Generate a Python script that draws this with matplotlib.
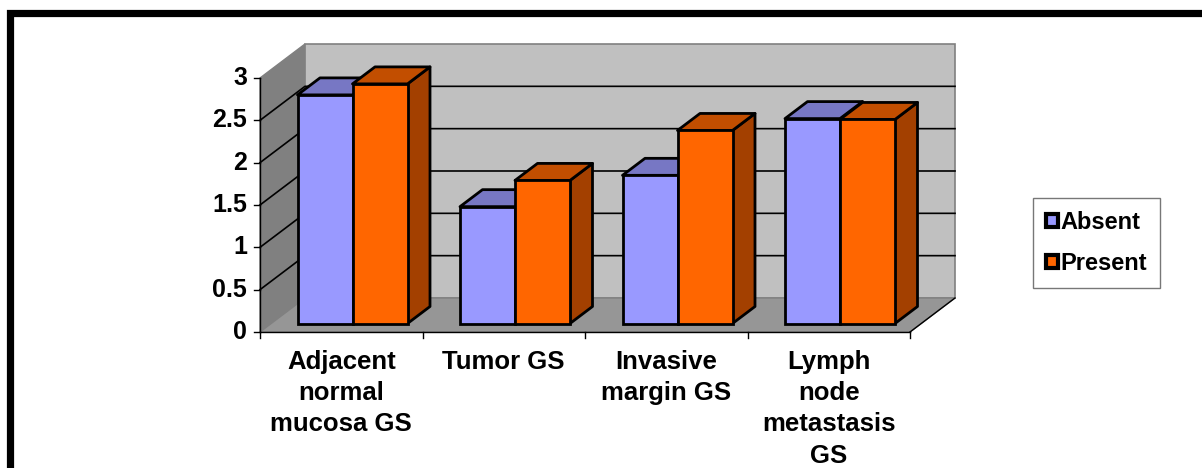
import matplotlib.pyplot as plt
from matplotlib.patches import Polygon, Rectangle, Patch

categories = ["Adjacent\nnormal\nmucosa GS", "Tumor GS", "Invasive\nmargin GS", "Lymph\nnode\nmetastasis\nGS"]
absent = [2.70, 1.38, 1.75, 2.42]
present = [2.83, 1.69, 2.28, 2.41]
y_ticks = [0, 0.5, 1, 1.5, 2, 2.5, 3]
series_names = ["Absent", "Present"]

# colours: front, top, side
colors = {
    "Absent": ("#9999FF", "#7777C4", "#6666AA"),
    "Present": ("#FF6600", "#C24E00", "#A34000"),
}

W, H = 1202, 468
fig = plt.figure(figsize=(W / 100, H / 100), dpi=100)
ax = fig.add_axes([0, 0, 1, 1])

# pixel mapping: x=0 at px 260, 1 category = 162.5 px ; y=0 at py 332, 1 unit = 84.67 px
px_cat = 162.5
px_val = 84.67
ax.set_xlim(-260 / px_cat, (W - 260) / px_cat)
ax.set_ylim(-(H - 332) / px_val, 332 / px_val)
ax.axis("off")

# oblique depth offsets (full depth of the box)
DX = 45 / px_cat
DY = 34 / px_val
ymax = 3
n = len(categories)
font = "Liberation Sans"


def P(x, y, z):
    return (x + z * DX, y + z * DY)


# walls
side = Polygon([P(0, 0, 0), P(0, ymax, 0), P(0, ymax, 1), P(0, 0, 1)],
               facecolor="#808080", edgecolor="#808080", lw=1, zorder=1)
back = Polygon([P(0, 0, 1), P(0, ymax, 1), P(n, ymax, 1), P(n, 0, 1)],
               facecolor="#C0C0C0", edgecolor="#808080", lw=1.2, zorder=1)
floor = Polygon([P(0, 0, 0), P(n, 0, 0), P(n, 0, 1), P(0, 0, 1)],
                facecolor="#969696", edgecolor="#808080", lw=1, zorder=1)
for p in (side, back, floor):
    ax.add_patch(p)
x1, y1 = P(n, 0, 0)
x2, y2 = P(n, 0, 1)
ax.plot([x1, x2], [y1, y2], color="black", lw=1, zorder=2)

# gridlines
for v in y_ticks[1:-1]:
    a = P(0, v, 0)
    b = P(0, v, 1)
    c = P(n, v, 1)
    ax.plot([a[0], b[0], c[0]], [a[1], b[1], c[1]], color="black", lw=1.2, zorder=2)

# axes lines and ticks
ax.plot([0, 0], [0, ymax], color="black", lw=1, zorder=3)
ax.plot([0, n], [0, 0], color="black", lw=1, zorder=3)
for v in y_ticks:
    ax.plot([-6 / px_cat, 0], [v, v], color="black", lw=1, zorder=3)
    ax.text(-13 / px_cat, v, f"{v:g}", ha="right", va="center",
            fontsize=18, fontweight="bold", family=font)
for i in range(n + 1):
    ax.plot([i, i], [0, -6 / px_val], color="black", lw=1, zorder=3)
for i, lab in enumerate(categories):
    ax.text(i + 0.5, -18 / px_val, lab, ha="center", va="top", fontsize=18.5,
            fontweight="bold", family=font, linespacing=1.38)

# bars
bw = 55 / px_cat
z0, z1 = 0.25, 0.75
for s, vals in enumerate([absent, present]):
    front, top, sidec = colors[series_names[s]]
    lefts = [i + 0.5 - bw + s * bw + z0 * DX for i in range(n)]
    ax.bar(lefts, vals, width=bw, bottom=z0 * DY, align="edge", color=front,
           edgecolor="black", lw=2, zorder=5 + 2 * s)
    for i, v in enumerate(vals):
        xl = i + 0.5 - bw + s * bw
        xr = xl + bw
        tp = Polygon([P(xl, v, z0), P(xr, v, z0), P(xr, v, z1), P(xl, v, z1)],
                     facecolor=top, edgecolor="black", lw=2, zorder=4 + 2 * s, joinstyle="round")
        sd = Polygon([P(xr, 0, z0), P(xr, v, z0), P(xr, v, z1), P(xr, 0, z1)],
                     facecolor=sidec, edgecolor="black", lw=2, zorder=4 + 2 * s, joinstyle="round")
        ax.add_patch(sd)
        ax.add_patch(tp)

# legend
handles = [Patch(facecolor=colors[nm][0], edgecolor="black", lw=3) for nm in series_names]
leg = ax.legend(handles, series_names, loc="center left",
                bbox_to_anchor=(1033 / W, 1 - 243 / H), bbox_transform=fig.transFigure,
                prop={"family": font, "size": 17, "weight": "bold"},
                frameon=True, fancybox=False, edgecolor="#555555",
                handlelength=0.5, handleheight=0.5, handletextpad=0.1,
                borderpad=0.55, labelspacing=0.75, borderaxespad=0)
leg.get_frame().set_linewidth(1)

# thick outer border (top and left)
fig.add_artist(Rectangle((10.5 / W, -0.1), 1.2, 1.1 - 13.5 / H, transform=fig.transFigure,
                         fill=False, edgecolor="black", lw=5.2))

fig.savefig("out.png", dpi=100)
